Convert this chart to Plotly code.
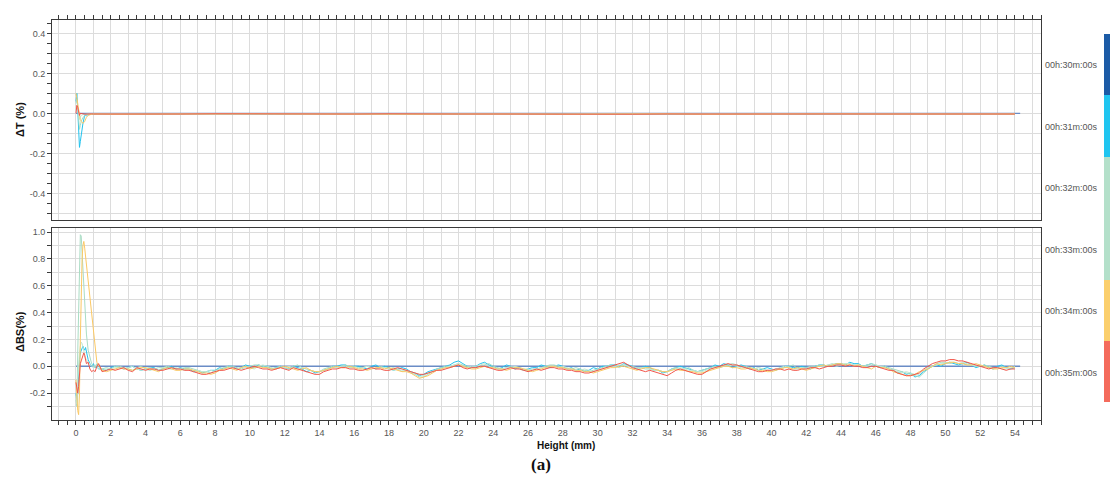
import plotly.graph_objects as go

# ---------------- data ----------------
TIME_LABELS = ["00h:30m:00s", "00h:31m:00s", "00h:32m:00s",
               "00h:33m:00s", "00h:34m:00s", "00h:35m:00s"]
SERIES_COLORS = ["#6a8cc6", "#22c3ee", "#a9dcc4", "#c4e8d2", "#fbc863", "#f2554a"]
BAR_COLORS = ["#1c5ba6", "#1fc5f0", "#b4e0ca", "#fbcf6d", "#f46b5c"]

X_TICKS = [0, 2, 4, 6, 8, 10, 12, 14, 16, 18, 20, 22, 24, 26,
           28, 30, 32, 34, 36, 38, 40, 42, 44, 46, 48, 50, 52, 54]

# reference scan (30 min) is zero everywhere
HEIGHT_REF = [0.0, 54.3]
REF_30 = [0.0, 0.0]

# ---- Transmission (ΔT %) ----
HEIGHT_T = [0, 0.05, 0.1, 0.15, 0.2, 0.25, 0.3, 0.4, 0.5, 0.6, 0.7, 0.8, 0.9, 1.0, 1.2, 1.5,
            2, 4, 6, 8, 10, 12, 14, 16, 18, 20, 22, 24, 26, 28, 30, 32, 34, 36, 38, 40,
            42, 44, 46, 48, 50, 52, 54]
T_31 = [0.06, 0.10, 0.02, -0.10, -0.17, -0.14, -0.10, -0.05, -0.01, -0.012, -0.005, -0.004, -0.003, -0.004, -0.003, -0.004,
        -0.003, -0.004, -0.002, -0.003, -0.004, -0.003, -0.002, -0.003, -0.004, -0.003, -0.002, -0.003, -0.004, -0.003,
        -0.002, -0.003, -0.004, -0.003, -0.002, -0.003, -0.004, -0.003, -0.003, -0.002, -0.003, -0.004, -0.003]
T_32 = [0.05, 0.07, 0.03, -0.03, -0.08, -0.06, -0.04, -0.02, -0.01, -0.005, -0.004, -0.003, -0.003, -0.004, -0.002, -0.003,
        -0.004, -0.003, -0.003, -0.002, -0.003, -0.004, -0.003, -0.002, -0.003, -0.003, -0.004, -0.002, -0.003, -0.003,
        -0.004, -0.003, -0.002, -0.003, -0.004, -0.003, -0.002, -0.003, -0.004, -0.003, -0.002, -0.003, -0.003]
T_33 = [0.02, 0.04, 0.02, -0.01, -0.03, -0.02, -0.01, -0.006, -0.004, -0.003, -0.003, -0.002, -0.003, -0.003, -0.004, -0.003,
        -0.002, -0.003, -0.004, -0.003, -0.003, -0.002, -0.003, -0.004, -0.003, -0.002, -0.003, -0.003, -0.004, -0.003,
        -0.002, -0.003, -0.003, -0.004, -0.003, -0.002, -0.003, -0.003, -0.004, -0.003, -0.003, -0.002, -0.003]
T_34 = [0.10, 0.08, 0.05, 0.02, -0.01, -0.03, -0.04, -0.05, -0.04, -0.02, -0.01, -0.005, -0.004, -0.003, -0.004, -0.003,
        -0.004, -0.003, -0.003, -0.004, -0.002, -0.003, -0.004, -0.003, -0.003, -0.004, -0.003, -0.002, -0.003, -0.004,
        -0.003, -0.003, -0.002, -0.004, -0.003, -0.003, -0.004, -0.002, -0.003, -0.003, -0.004, -0.003, -0.003]
T_35 = [0.0, 0.04, 0.03, 0.0, -0.01, 0.0, 0.0, -0.002, -0.004, -0.003, -0.004, -0.003, -0.002, -0.003, -0.004, -0.003,
        -0.003, -0.004, -0.003, -0.002, -0.003, -0.004, -0.003, -0.003, -0.002, -0.004, -0.003, -0.003, -0.004, -0.002,
        -0.003, -0.004, -0.003, -0.003, -0.002, -0.004, -0.003, -0.003, -0.002, -0.003, -0.004, -0.003, -0.003]

# ---- Backscattering (ΔBS %) ----
HEIGHT_BS = [0, 0.05, 0.1, 0.15, 0.2, 0.25, 0.3, 0.35, 0.4, 0.45, 0.5, 0.55, 0.6, 0.7, 0.8, 0.9, 1.0, 1.1, 1.2, 1.3,
             1.5, 1.75, 2.0, 2.25, 2.5, 2.75, 3.0, 3.25, 3.5, 3.75, 4.0, 4.25, 4.5, 4.75, 5.0, 5.25, 5.5, 5.75, 6.0, 6.25,
             6.5, 6.75, 7.0, 7.25, 7.5, 7.75, 8.0, 8.25, 8.5, 8.75, 9.0, 9.25, 9.5, 9.75, 10.0, 10.25, 10.5, 10.75, 11.0, 11.25,
             11.5, 11.75, 12.0, 12.25, 12.5, 12.75, 13.0, 13.25, 13.5, 13.75, 14.0, 14.25, 14.5, 14.75, 15.0, 15.25, 15.5, 15.75, 16.0, 16.25,
             16.5, 16.75, 17.0, 17.25, 17.5, 17.75, 18.0, 18.25, 18.5, 18.75, 19.0, 19.25, 19.5, 19.75, 20.0, 20.25, 20.5, 20.75, 21.0, 21.25,
             21.5, 21.75, 22.0, 22.25, 22.5, 22.75, 23.0, 23.25, 23.5, 23.75, 24.0, 24.25, 24.5, 24.75, 25.0, 25.25, 25.5, 25.75, 26.0, 26.25,
             26.5, 26.75, 27.0, 27.25, 27.5, 27.75, 28.0, 28.25, 28.5, 28.75, 29.0, 29.25, 29.5, 29.75, 30.0, 30.25, 30.5, 30.75, 31.0, 31.25,
             31.5, 31.75, 32.0, 32.25, 32.5, 32.75, 33.0, 33.25, 33.5, 33.75, 34.0, 34.25, 34.5, 34.75, 35.0, 35.25, 35.5, 35.75, 36.0, 36.25,
             36.5, 36.75, 37.0, 37.25, 37.5, 37.75, 38.0, 38.25, 38.5, 38.75, 39.0, 39.25, 39.5, 39.75, 40.0, 40.25, 40.5, 40.75, 41.0, 41.25,
             41.5, 41.75, 42.0, 42.25, 42.5, 42.75, 43.0, 43.25, 43.5, 43.75, 44.0, 44.25, 44.5, 44.75, 45.0, 45.25, 45.5, 45.75, 46.0, 46.25,
             46.5, 46.75, 47.0, 47.25, 47.5, 47.75, 48.0, 48.25, 48.5, 48.75, 49.0, 49.25, 49.5, 49.75, 50.0, 50.25, 50.5, 50.75, 51.0, 51.25,
             51.5, 51.75, 52.0, 52.25, 52.5, 52.75, 53.0, 53.25, 53.5, 53.75, 54.0]

BS_31 = [-0.20, -0.27, -0.20, -0.05, 0.05, 0.10, 0.12, 0.14, 0.15, 0.13, 0.12, 0.14, 0.10, 0.05, 0.02, 0.00, 0.02, -0.01, 0.00, -0.02,
         -0.02, -0.03, -0.01, 0.00, -0.01, -0.02, -0.01, 0.00, -0.02, -0.03, -0.02, -0.01, -0.01, -0.03, -0.02, -0.01, 0.00, -0.02, -0.01, -0.02,
         -0.02, -0.04, -0.03, -0.05, -0.04, -0.03, -0.03, -0.01, -0.02, 0.00, 0.00, -0.02, -0.01, 0.01, 0.00, -0.01, 0.01, 0.00, 0.00, -0.02,
         -0.01, 0.00, -0.01, -0.02, 0.00, -0.01, -0.02, -0.04, -0.03, -0.05, -0.04, -0.03, -0.02, 0.00, 0.00, 0.01, 0.01, -0.01, 0.00, 0.00,
         -0.01, -0.02, 0.00, 0.01, -0.01, 0.00, -0.01, -0.03, -0.02, -0.01, -0.02, -0.04, -0.05, -0.07, -0.06, -0.04, -0.03, -0.02, -0.01, 0.00,
         0.01, 0.03, 0.04, 0.02, 0.00, -0.01, 0.00, 0.02, 0.03, 0.01, 0.00, -0.02, -0.01, 0.01, 0.00, -0.02, -0.01, -0.03, -0.02, -0.01,
         -0.01, 0.01, 0.00, -0.01, 0.00, 0.01, 0.00, -0.02, -0.01, -0.03, -0.02, -0.04, -0.03, -0.01, -0.02, 0.00, 0.00, 0.01, 0.01, 0.00,
         0.02, 0.01, 0.00, -0.02, -0.01, 0.00, -0.01, -0.03, -0.03, -0.05, -0.04, -0.02, -0.01, 0.00, -0.01, -0.02, -0.03, -0.04, -0.03, -0.02,
         -0.01, 0.01, 0.00, 0.02, 0.01, -0.01, 0.00, 0.01, 0.00, -0.02, -0.01, -0.03, -0.02, -0.01, -0.02, -0.03, -0.01, 0.00, 0.00, -0.01,
         -0.01, 0.00, -0.01, -0.02, 0.00, 0.01, 0.01, 0.00, 0.01, 0.02, 0.02, 0.01, 0.03, 0.02, 0.02, 0.00, 0.01, 0.02, 0.00, -0.01,
         0.00, -0.02, -0.03, -0.05, -0.04, -0.06, -0.05, -0.08, -0.07, -0.04, -0.02, 0.00, 0.01, 0.00, 0.02, 0.03, 0.02, 0.01, 0.02, 0.03,
         0.01, -0.01, 0.00, 0.01, -0.01, -0.02, 0.00, 0.01, -0.01, -0.02, -0.01]
BS_32 = [-0.25, -0.30, 0.10, 0.50, 0.85, 0.98, 0.97, 0.85, 0.72, 0.60, 0.47, 0.35, 0.24, 0.12, 0.06, 0.02, 0.00, -0.01, 0.02, 0.00,
         -0.02, -0.01, -0.02, 0.00, 0.00, -0.01, -0.02, -0.03, -0.01, 0.00, -0.02, -0.03, -0.02, -0.01, -0.01, 0.00, -0.01, -0.02, -0.02, -0.01,
         -0.01, -0.02, -0.03, -0.04, -0.04, -0.05, -0.03, -0.02, -0.01, 0.00, 0.00, -0.01, -0.02, -0.01, 0.00, 0.01, 0.01, 0.00, -0.01, -0.02,
         -0.01, 0.00, -0.01, -0.02, 0.00, 0.01, -0.01, -0.02, -0.03, -0.04, -0.04, -0.02, -0.01, 0.00, -0.01, 0.00, 0.01, 0.00, 0.00, -0.01,
         -0.01, 0.00, -0.01, -0.02, 0.00, -0.01, -0.02, -0.01, -0.02, -0.04, -0.03, -0.05, -0.06, -0.08, -0.08, -0.06, -0.04, -0.02, -0.01, 0.00,
         0.00, 0.01, 0.02, 0.01, 0.00, -0.01, -0.01, 0.00, 0.01, 0.02, 0.00, -0.01, -0.02, -0.01, 0.00, -0.01, -0.02, -0.03, -0.03, -0.02,
         -0.02, -0.01, 0.00, 0.01, 0.01, 0.00, -0.01, -0.02, -0.02, -0.01, -0.02, -0.03, -0.04, -0.03, -0.02, -0.01, 0.00, 0.01, 0.00, -0.01,
         0.01, 0.00, 0.00, -0.01, -0.01, -0.02, -0.02, -0.03, -0.03, -0.04, -0.04, -0.02, -0.01, -0.02, -0.02, -0.01, -0.03, -0.04, -0.03, -0.02,
         -0.01, 0.00, -0.01, 0.00, 0.01, 0.02, 0.01, 0.00, 0.00, -0.01, -0.02, -0.01, -0.02, -0.03, -0.03, -0.02, -0.02, -0.01, 0.00, 0.01,
         -0.02, -0.01, -0.01, 0.00, 0.00, 0.01, 0.00, 0.01, 0.02, 0.01, 0.01, 0.02, 0.02, 0.01, 0.01, 0.00, 0.01, 0.02, 0.01, 0.00,
         0.00, -0.01, -0.02, -0.03, -0.04, -0.05, -0.06, -0.07, -0.08, -0.05, -0.02, 0.00, 0.02, 0.03, 0.03, 0.02, 0.03, 0.02, 0.02, 0.01,
         0.01, 0.00, 0.00, 0.01, 0.00, -0.01, -0.01, 0.00, -0.01, -0.02, 0.00]
BS_33 = [-0.22, -0.28, -0.12, 0.02, 0.10, 0.15, 0.18, 0.17, 0.14, 0.11, 0.08, 0.06, 0.05, 0.03, 0.01, 0.00, -0.01, 0.01, 0.00, -0.02,
         -0.03, -0.02, -0.02, -0.01, -0.01, -0.02, -0.01, 0.00, -0.02, -0.03, -0.02, -0.01, -0.02, -0.03, -0.01, -0.02, -0.02, -0.01, -0.02, -0.03,
         -0.02, -0.03, -0.03, -0.04, -0.04, -0.03, -0.04, -0.03, -0.02, -0.01, -0.01, -0.02, -0.01, 0.00, -0.01, -0.02, 0.00, 0.01, 0.00, -0.01,
         -0.02, -0.01, -0.01, 0.00, -0.01, -0.02, -0.01, -0.02, -0.03, -0.04, -0.04, -0.03, -0.02, -0.01, -0.01, 0.00, 0.00, -0.01, -0.01, -0.02,
         -0.01, 0.00, -0.01, -0.02, -0.01, -0.01, -0.02, -0.03, -0.02, -0.03, -0.03, -0.04, -0.05, -0.06, -0.07, -0.05, -0.04, -0.03, -0.02, -0.01,
         0.00, 0.01, 0.02, 0.00, -0.01, 0.00, 0.00, 0.01, 0.02, 0.00, -0.01, -0.02, -0.02, -0.01, -0.01, 0.00, -0.01, -0.02, -0.02, -0.03,
         -0.02, -0.01, -0.01, 0.00, 0.00, -0.01, 0.00, -0.01, -0.02, -0.03, -0.03, -0.02, -0.03, -0.04, -0.03, -0.02, -0.01, 0.00, 0.00, 0.01,
         0.01, 0.00, -0.01, -0.02, -0.01, -0.01, -0.02, -0.03, -0.03, -0.04, -0.04, -0.03, -0.02, -0.01, -0.02, -0.03, -0.03, -0.04, -0.04, -0.03,
         -0.02, -0.01, -0.01, 0.00, 0.00, 0.01, 0.00, -0.01, -0.01, -0.02, -0.02, -0.01, -0.02, -0.03, -0.03, -0.02, -0.01, 0.00, -0.01, -0.02,
         -0.02, -0.01, -0.02, -0.01, -0.01, 0.00, 0.00, 0.01, 0.01, 0.00, 0.01, 0.02, 0.02, 0.01, 0.01, 0.00, 0.00, 0.01, 0.01, 0.00,
         -0.01, -0.02, -0.03, -0.04, -0.05, -0.04, -0.05, -0.06, -0.06, -0.03, -0.01, 0.00, 0.01, 0.02, 0.02, 0.03, 0.03, 0.02, 0.03, 0.02,
         0.01, 0.00, 0.01, 0.00, -0.01, -0.02, -0.01, -0.02, -0.02, -0.01, -0.01]
BS_34 = [-0.10, -0.25, -0.33, -0.36, -0.20, 0.20, 0.55, 0.80, 0.90, 0.93, 0.88, 0.82, 0.75, 0.62, 0.50, 0.37, 0.25, 0.13, 0.03, 0.01,
         -0.03, -0.04, -0.03, -0.02, -0.01, -0.02, -0.02, -0.03, -0.02, -0.01, -0.01, -0.02, -0.03, -0.04, -0.02, -0.01, -0.02, -0.03, -0.03, -0.02,
         -0.02, -0.03, -0.04, -0.05, -0.05, -0.06, -0.05, -0.03, -0.02, -0.01, -0.02, -0.03, -0.01, 0.00, -0.02, -0.01, 0.00, -0.01, -0.01, -0.02,
         -0.02, -0.01, 0.00, -0.01, -0.02, -0.03, -0.02, -0.01, -0.03, -0.04, -0.04, -0.03, -0.02, -0.01, 0.00, -0.01, -0.01, 0.00, -0.01, -0.02,
         -0.02, -0.03, -0.02, -0.01, -0.01, -0.02, -0.01, -0.02, -0.03, -0.04, -0.04, -0.05, -0.07, -0.09, -0.08, -0.07, -0.05, -0.03, -0.02, -0.01,
         -0.01, 0.00, 0.01, 0.00, -0.01, -0.02, -0.02, -0.01, 0.00, -0.01, -0.01, -0.02, -0.02, -0.03, -0.02, -0.01, -0.01, -0.02, -0.03, -0.04,
         -0.03, -0.02, -0.01, 0.00, 0.00, -0.01, -0.01, -0.02, -0.02, -0.03, -0.03, -0.04, -0.04, -0.05, -0.04, -0.03, -0.02, -0.01, -0.01, 0.00,
         0.00, -0.01, -0.02, -0.03, -0.02, -0.01, -0.01, -0.02, -0.03, -0.04, -0.04, -0.03, -0.02, -0.03, -0.03, -0.04, -0.04, -0.05, -0.05, -0.04,
         -0.03, -0.02, -0.01, 0.00, 0.00, -0.01, -0.01, -0.02, -0.02, -0.01, -0.02, -0.03, -0.03, -0.04, -0.04, -0.03, -0.02, -0.01, -0.01, -0.02,
         -0.01, -0.02, -0.03, -0.02, -0.01, 0.00, 0.01, 0.00, 0.01, 0.02, 0.02, 0.01, 0.01, 0.00, 0.01, 0.00, -0.01, -0.02, 0.00, -0.01,
         -0.01, -0.02, -0.04, -0.05, -0.06, -0.07, -0.07, -0.06, -0.04, -0.03, -0.02, 0.00, 0.02, 0.01, 0.02, 0.03, 0.03, 0.02, 0.02, 0.01,
         0.01, 0.02, 0.01, 0.00, -0.01, -0.02, -0.02, -0.01, -0.01, 0.00, -0.01]
BS_35 = [-0.12, -0.18, -0.20, -0.15, -0.05, 0.02, 0.04, 0.06, 0.09, 0.10, 0.08, 0.04, 0.02, 0.03, -0.02, -0.04, -0.03, -0.04, 0.00, 0.02,
         -0.04, -0.03, -0.02, -0.03, -0.02, -0.01, -0.03, -0.04, -0.01, -0.02, -0.03, -0.02, -0.02, -0.03, -0.03, -0.02, -0.01, -0.02, -0.02, -0.03,
         -0.03, -0.04, -0.05, -0.06, -0.06, -0.05, -0.04, -0.03, -0.03, -0.02, -0.01, -0.02, -0.03, -0.02, -0.01, 0.00, -0.01, -0.02, -0.02, -0.03,
         -0.02, -0.01, -0.02, -0.03, -0.01, -0.02, -0.03, -0.04, -0.05, -0.06, -0.06, -0.04, -0.03, -0.02, -0.02, -0.01, -0.01, -0.02, -0.02, -0.03,
         -0.03, -0.02, -0.01, -0.02, -0.02, -0.03, -0.03, -0.02, -0.01, -0.02, -0.03, -0.04, -0.05, -0.06, -0.06, -0.05, -0.04, -0.03, -0.03, -0.02,
         -0.01, 0.00, 0.01, -0.01, -0.02, -0.01, -0.01, 0.00, 0.00, -0.01, -0.02, -0.03, -0.03, -0.02, -0.01, -0.02, -0.02, -0.03, -0.04, -0.03,
         -0.02, -0.03, -0.02, -0.01, -0.01, -0.02, -0.02, -0.03, -0.03, -0.04, -0.04, -0.05, -0.05, -0.04, -0.03, -0.02, -0.01, 0.00, 0.01, 0.02,
         0.03, 0.01, -0.01, -0.02, -0.03, -0.04, -0.03, -0.04, -0.05, -0.06, -0.07, -0.05, -0.03, -0.02, -0.03, -0.04, -0.05, -0.06, -0.06, -0.04,
         -0.02, -0.01, 0.00, 0.01, 0.02, 0.01, 0.01, 0.00, -0.01, -0.02, -0.03, -0.04, -0.04, -0.03, -0.03, -0.02, -0.02, -0.03, -0.02, -0.03,
         -0.03, -0.02, -0.02, -0.01, -0.01, -0.02, -0.01, 0.00, 0.00, 0.01, 0.01, 0.00, 0.01, 0.00, 0.00, -0.01, -0.01, 0.00, 0.00, -0.01,
         -0.02, -0.03, -0.03, -0.05, -0.06, -0.07, -0.07, -0.06, -0.05, -0.02, 0.00, 0.02, 0.03, 0.04, 0.04, 0.05, 0.05, 0.04, 0.04, 0.03,
         0.02, 0.01, 0.00, -0.01, -0.02, -0.01, -0.01, -0.02, -0.03, -0.02, -0.02]

# ---------------- figure ----------------
W, H = 1110, 488
ML, MR, MT, MB = 52, 69, 20, 68
PW, PH = W - ML - MR, H - MT - MB


def px_x(px):
    return (px - ML) / PW


def px_y(py):
    return (H - MB - py) / PH


fig = go.Figure()

T_SERIES = [T_31, T_32, T_33, T_34, T_35]
BS_SERIES = [BS_31, BS_32, BS_33, BS_34, BS_35]

fig.add_trace(go.Scatter(x=HEIGHT_REF, y=REF_30, mode="lines", xaxis="x", yaxis="y",
                         line=dict(color=SERIES_COLORS[0], width=1.2), name=TIME_LABELS[0],
                         showlegend=False, hoverinfo="skip"))
for i, ys in enumerate(T_SERIES):
    fig.add_trace(go.Scatter(x=HEIGHT_T, y=ys, mode="lines", xaxis="x", yaxis="y",
                             line=dict(color=SERIES_COLORS[i + 1], width=1), name=TIME_LABELS[i + 1],
                             showlegend=False))

fig.add_trace(go.Scatter(x=HEIGHT_REF, y=REF_30, mode="lines", xaxis="x2", yaxis="y2",
                         line=dict(color=SERIES_COLORS[0], width=1.5), name=TIME_LABELS[0],
                         showlegend=False, hoverinfo="skip"))
for i, ys in enumerate(BS_SERIES):
    fig.add_trace(go.Scatter(x=HEIGHT_BS, y=ys, mode="lines", xaxis="x2", yaxis="y2",
                             line=dict(color=SERIES_COLORS[i + 1], width=1), name=TIME_LABELS[i + 1],
                             showlegend=False))

XR = [-1.38, 55.5]
Y1R = [-0.533, 0.467]
Y2R = [-0.4, 1.03]
GRID = "#dcdcdc"
GRID_MAJOR = "#c2c2c2"
AXC = "#3a3a3a"
TICKFONT = dict(family="Liberation Sans, Arial", size=9, color="#555555")

x_int = list(range(-1, 56))
x_lbl = [str(v) if v in X_TICKS else "" for v in x_int]

common_x = dict(range=XR, showline=True, linecolor=AXC, linewidth=1, mirror=True,
                zeroline=False, showgrid=True, gridcolor=GRID, gridwidth=1, automargin=False,
                tickmode="array", tickvals=x_int, ticks="outside", ticklen=4,
                tickcolor=AXC, tickwidth=1,
                minor=dict(tickmode="linear", tick0=0, dtick=0.5, ticks="outside",
                           ticklen=4, tickcolor=AXC, showgrid=False))
overlay_x = dict(range=XR, tickmode="linear", tick0=0, dtick=0.5, ticks="inside",
                 ticklen=4, tickcolor=AXC, tickwidth=1, showticklabels=False, automargin=False,
                 showgrid=False, showline=False, zeroline=False)
major_grid_x = dict(range=XR, tickmode="array", tickvals=X_TICKS, ticks="", showticklabels=False,
                    automargin=False, showgrid=True, gridcolor=GRID_MAJOR, gridwidth=1,
                    showline=False, zeroline=False)

y1_vals = [-0.5, -0.4, -0.3, -0.2, -0.1, 0.0, 0.1, 0.2, 0.3, 0.4]
y1_txt = ["", "-0.4", "", "-0.2", "", "0.0", "", "0.2", "", "0.4"]
y1_major = [-0.4, -0.2, 0.0, 0.2, 0.4]
y2_vals = [-0.3, -0.2, -0.1, 0.0, 0.1, 0.2, 0.3, 0.4, 0.5, 0.6, 0.7, 0.8, 0.9, 1.0]
y2_txt = ["", "-0.2", "", "0.0", "", "0.2", "", "0.4", "", "0.6", "", "0.8", "", "1.0"]
y2_major = [-0.2, 0.0, 0.2, 0.4, 0.6, 0.8, 1.0]

common_y = dict(showline=True, linecolor=AXC, linewidth=1, mirror=True, zeroline=False,
                showgrid=True, gridcolor=GRID, gridwidth=1, ticks="outside", ticklen=4,
                tickcolor=AXC, tickwidth=1, tickfont=TICKFONT, tickmode="array", automargin=False)
major_grid_y = dict(tickmode="array", ticks="", showticklabels=False, automargin=False,
                    showgrid=True, gridcolor=GRID_MAJOR, gridwidth=1, showline=False, zeroline=False)

fig.update_layout(
    template="none",
    width=W, height=H,
    margin=dict(l=ML, r=MR, t=MT, b=MB, autoexpand=False),
    paper_bgcolor="white", plot_bgcolor="white",
    showlegend=False,
    xaxis=dict(**common_x, domain=[0, 1], anchor="y", side="top", showticklabels=False),
    xaxis3=dict(**overlay_x, overlaying="x", anchor="y", side="top"),
    xaxis5=dict(**major_grid_x, overlaying="x", anchor="y", side="top"),
    xaxis2=dict(**common_x, domain=[0, 1], anchor="y2", side="bottom", showticklabels=True,
                ticktext=x_lbl, tickfont=TICKFONT),
    xaxis4=dict(**overlay_x, overlaying="x2", anchor="y2", side="bottom"),
    xaxis6=dict(**major_grid_x, overlaying="x2", anchor="y2", side="bottom"),
    yaxis=dict(**common_y, domain=[0.5, 1], anchor="x", range=Y1R,
               tickvals=y1_vals, ticktext=y1_txt,
               minor=dict(tickmode="linear", tick0=0, dtick=0.05, ticks="outside",
                          ticklen=4, tickcolor=AXC, showgrid=False)),
    yaxis3=dict(**major_grid_y, overlaying="y", anchor="x", range=Y1R, tickvals=y1_major),
    yaxis2=dict(**common_y, domain=[0, 0.48], anchor="x2", range=Y2R,
                tickvals=y2_vals, ticktext=y2_txt),
    yaxis4=dict(**major_grid_y, overlaying="y2", anchor="x2", range=Y2R, tickvals=y2_major),
)

TITLE_FONT = dict(family="Liberation Sans, Arial", size=11, color="#111")
annotations = [
    dict(text="<b>ΔT (%)</b>", x=px_x(20), y=px_y(120), textangle=-90, font=TITLE_FONT),
    dict(text="<b>ΔBS(%)</b>", x=px_x(20), y=px_y(332), textangle=-90, font=TITLE_FONT),
    dict(text="<b>Height (mm)</b>", x=px_x(566), y=px_y(445),
         font=dict(family="Liberation Sans, Arial", size=10, color="#111")),
    dict(text="<b>(a)</b>", x=px_x(541), y=px_y(464),
         font=dict(family="Liberation Serif, serif", size=17, color="#111")),
]
for a in annotations:
    a.update(xref="paper", yref="paper", xanchor="center", yanchor="middle", showarrow=False)
label_y = [65, 126.5, 188, 249.5, 311, 372.5]
for lbl, yy in zip(TIME_LABELS, label_y):
    annotations.append(dict(text=lbl, x=px_x(1043), y=px_y(yy), xref="paper", yref="paper",
                            xanchor="left", yanchor="middle", showarrow=False,
                            font=dict(family="Liberation Sans, Arial", size=9, color="#555555")))
fig.update_layout(annotations=annotations)

bar_edges = [34, 95, 157, 280, 341, 402]
shapes = []
for k, col in enumerate(BAR_COLORS):
    shapes.append(dict(type="rect", xref="paper", yref="paper",
                       x0=px_x(1104), x1=px_x(1111), y0=px_y(bar_edges[k + 1]), y1=px_y(bar_edges[k]),
                       fillcolor=col, line=dict(width=0), layer="above"))
fig.update_layout(shapes=shapes)

# remove the default 8px page margin so the figure sits at the window's top-left corner
fig.write_html("out.html", config={"displayModeBar": False},
               post_script="document.body.style.margin='0';document.body.style.overflow='hidden';")
